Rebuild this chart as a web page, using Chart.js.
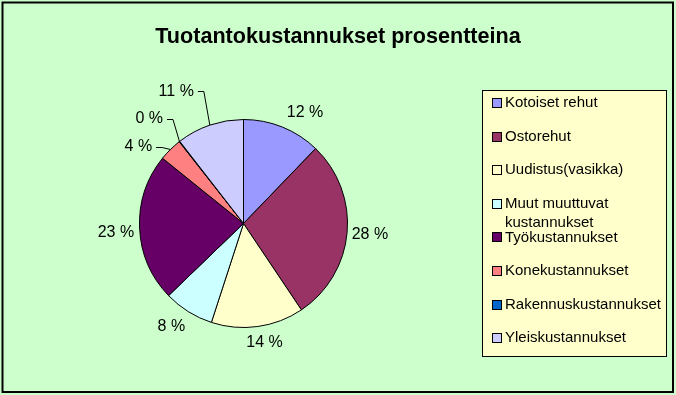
<!DOCTYPE html>
<html><head><meta charset="utf-8">
<script src="https://cdn.jsdelivr.net/npm/chart.js@4/dist/chart.umd.min.js"></script>
<style>html,body{margin:0;padding:0;background:#CCFFCC;}#wrap{width:676px;height:395px;}</style>
</head><body><div id="wrap"><canvas id="c" width="676" height="395"></canvas></div>
<script>
const titleText = 'Tuotantokustannukset prosentteina';
const categories = ['Kotoiset rehut','Ostorehut','Uudistus(vasikka)','Muut muuttuvat kustannukset','Työkustannukset','Konekustannukset','Rakennuskustannukset','Yleiskustannukset'];
const shares = [12.2, 28.4, 14.4, 7.8, 23.0, 3.6, 0.1, 10.5];
const sliceColors = ['#9999FF','#993366','#FFFFCC','#CCFFFF','#660066','#FF8080','#0066CC','#CCCCFF'];
// label placement around the pie: angle (deg clockwise from top), distance as ratio of radius
const labelAngles = [29, 95, 170, 215, 266, 306, 318, 333];
const labelDist = [1.22, 1.22, 1.165, 1.21, 1.23, 1.25, 1.355, 1.425];
const leader = [false, false, false, false, false, true, true, true];

const FONT = '"Liberation Sans", Arial, sans-serif';

const bgPlugin = {
  id: 'bg',
  beforeDraw(chart) {
    const ctx = chart.ctx;
    ctx.save();
    ctx.fillStyle = '#CCFFCC';
    ctx.fillRect(0, 0, chart.width, chart.height);
    ctx.strokeStyle = '#000';
    ctx.lineWidth = 2;
    ctx.strokeRect(2.5, 2.5, 670.5, 389.5);
    // title
    ctx.fillStyle = '#000';
    ctx.font = 'bold 21.6px ' + FONT;
    ctx.textAlign = 'center';
    ctx.textBaseline = 'middle';
    ctx.fillText(titleText, 338, 37);
    ctx.restore();
  }
};

function wrapText(ctx, text, maxW) {
  const words = text.split(' ');
  const lines = [];
  let cur = '';
  for (const w of words) {
    const t = cur ? cur + ' ' + w : w;
    if (ctx.measureText(t).width > maxW && cur) { lines.push(cur); cur = w; }
    else cur = t;
  }
  if (cur) lines.push(cur);
  return lines;
}

const labelPlugin = {
  id: 'labels',
  afterDatasetsDraw(chart) {
    const ctx = chart.ctx;
    const meta = chart.getDatasetMeta(0);
    const data = chart.data.datasets[0].data;
    const total = data.reduce((a, b) => a + b, 0);
    ctx.save();
    ctx.font = '16px ' + FONT;
    ctx.fillStyle = '#000';
    ctx.strokeStyle = '#000';
    ctx.lineWidth = 1;
    ctx.textAlign = 'center';
    ctx.textBaseline = 'middle';
    meta.data.forEach((arc, i) => {
      const cx = arc.x, cy = arc.y, R = arc.outerRadius;
      const a = (labelAngles[i] - 90) * Math.PI / 180;
      const x = cx + Math.cos(a) * R * labelDist[i];
      const y = cy + Math.sin(a) * R * labelDist[i];
      const txt = Math.round(data[i] / total * 100) + ' %';
      ctx.fillText(txt, x, y);
      if (leader[i]) {
        const w = ctx.measureText(txt).width;
        const mid = (arc.startAngle + arc.endAngle) / 2;
        ctx.beginPath();
        ctx.moveTo(x + w / 2 + 4, Math.round(y) + 0.5);
        ctx.lineTo(x + w / 2 + 10, Math.round(y) + 0.5);
        ctx.lineTo(cx + Math.cos(mid) * R, cy + Math.sin(mid) * R);
        ctx.stroke();
      }
    });
    // legend
    const lx = 482.5, ly = 90.5, lw = 184, lh = 266;
    ctx.fillStyle = '#FFFFCC';
    ctx.fillRect(lx, ly, lw, lh);
    ctx.strokeRect(lx, ly, lw, lh);
    ctx.font = '15px ' + FONT;
    ctx.textAlign = 'left';
    const step = 33.6;
    chart.data.labels.forEach((lab, i) => {
      const yc = ly + 12.5 + i * step;
      ctx.fillStyle = sliceColors[i];
      ctx.fillRect(492.5, Math.round(yc) - 4.5, 9, 9);
      ctx.strokeStyle = '#000';
      ctx.strokeRect(492.5, Math.round(yc) - 4.5, 9, 9);
      ctx.fillStyle = '#000';
      const lines = wrapText(ctx, lab, 160);
      lines.forEach((ln, k) => ctx.fillText(ln, 505, yc + k * 19.5));
    });
    ctx.restore();
  }
};

new Chart(document.getElementById('c'), {
  type: 'pie',
  data: {
    labels: categories,
    datasets: [{
      data: shares,
      backgroundColor: sliceColors,
      borderColor: '#000',
      borderWidth: 1
    }]
  },
  options: {
    responsive: false,
    animation: false,
    layout: { padding: { left: 139, right: 328, top: 119, bottom: 67 } },
    plugins: {
      legend: { display: false },
      title: { display: false },
      tooltip: { enabled: false }
    }
  },
  plugins: [bgPlugin, labelPlugin]
});
</script>
</body></html>
